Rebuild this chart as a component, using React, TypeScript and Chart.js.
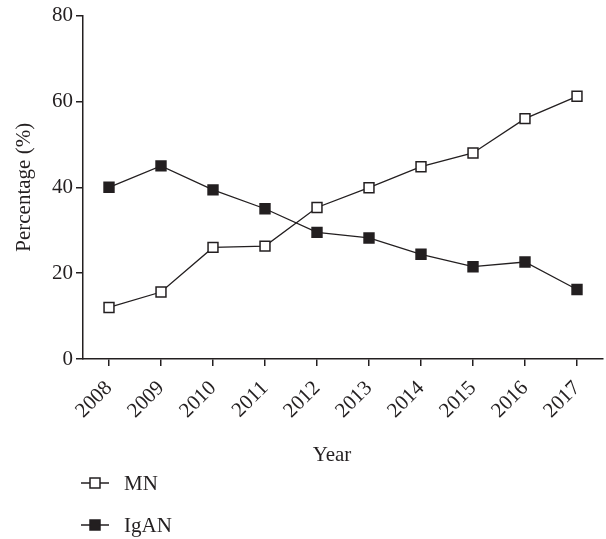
import React, { useEffect, useRef } from "react";
import { Chart, registerables } from "chart.js";

Chart.register(...registerables);

const years = ["2008", "2009", "2010", "2011", "2012", "2013", "2014", "2015", "2016", "2017"];
const mnValues = [12.0, 15.6, 26.0, 26.3, 35.3, 39.9, 44.8, 48.0, 56.0, 61.2];
const iganValues = [40.0, 45.0, 39.4, 35.0, 29.5, 28.2, 24.4, 21.5, 22.6, 16.2];
const yTicks = [0, 20, 40, 60, 80];
const xTitle = "Year";
const yTitle = "Percentage (%)";

const FONT = "'Liberation Serif', 'DejaVu Serif', serif";
const INK = "#231f20";
const FS = 21;

const legendPlugin = {
  id: "stackedLegend",
  afterDraw(chart: any) {
    const ctx = chart.ctx;
    ctx.save();
    // x-axis title, slightly left of centre as in the reference
    ctx.fillStyle = INK;
    ctx.font = `${FS}px ${FONT}`;
    ctx.textAlign = "center";
    ctx.textBaseline = "middle";
    ctx.fillText(xTitle, 332, 455);
    chart.data.datasets.forEach((ds: any, i: number) => {
      const y = 483 + i * 42;
      ctx.strokeStyle = ds.borderColor;
      ctx.lineWidth = 1.5;
      ctx.beginPath();
      ctx.moveTo(81, y);
      ctx.lineTo(109, y);
      ctx.stroke();
      const s = 10;
      ctx.fillStyle = ds.pointBackgroundColor;
      ctx.fillRect(95 - s / 2, y - s / 2, s, s);
      ctx.strokeRect(95 - s / 2, y - s / 2, s, s);
      ctx.fillStyle = INK;
      ctx.font = `${FS}px ${FONT}`;
      ctx.textAlign = "left";
      ctx.textBaseline = "middle";
      ctx.fillText(ds.label, 124, y + 1);
    });
    ctx.restore();
  },
};

export default function App() {
  const ref = useRef<HTMLCanvasElement>(null);
  useEffect(() => {
    document.body.style.margin = "0";
    const chart = new Chart(ref.current!, {
      type: "line",
      data: {
        labels: years,
        datasets: [
          {
            label: "MN",
            data: mnValues,
            borderColor: INK,
            backgroundColor: "#ffffff",
            pointBackgroundColor: "#ffffff",
            pointBorderColor: INK,
            pointStyle: "rect",
            pointRadius: 7,
            pointBorderWidth: 1.5,
            borderWidth: 1.3,
            tension: 0,
          },
          {
            label: "IgAN",
            data: iganValues,
            borderColor: INK,
            backgroundColor: INK,
            pointBackgroundColor: INK,
            pointBorderColor: INK,
            pointStyle: "rect",
            pointRadius: 7,
            pointBorderWidth: 1.5,
            borderWidth: 1.3,
            tension: 0,
          },
        ],
      },
      options: {
        animation: false,
        responsive: true,
        maintainAspectRatio: false,
        layout: { autoPadding: false, padding: { top: 15, right: 3, bottom: 69, left: 0 } },
        plugins: {
          legend: { display: false },
          tooltip: { enabled: false },
        },
        scales: {
          x: {
            type: "category",
            offset: true,
            grid: { display: true, drawOnChartArea: false, drawTicks: true, tickLength: 7, color: INK, lineWidth: 1.5 },
            border: { display: true, color: INK, width: 1.5 },
            ticks: {
              minRotation: 45,
              maxRotation: 45,
              autoSkip: false,
              padding: 10,
              color: INK,
              font: { family: FONT, size: FS },
            },
            title: { display: false },
            afterFit(scale: any) {
              scale.height = 111;
              scale.paddingLeft = 0;
              scale.paddingRight = 0;
            },
          },
          y: {
            min: 0,
            max: 80,
            afterBuildTicks(scale: any) {
              scale.ticks = yTicks.map((v) => ({ value: v }));
            },
            grid: { display: true, drawOnChartArea: false, drawTicks: true, tickLength: 7, color: INK, lineWidth: 1.5 },
            border: { display: true, color: INK, width: 1.5 },
            ticks: {
              padding: 3,
              color: INK,
              font: { family: FONT, size: FS },
            },
            title: {
              display: true,
              text: yTitle,
              color: INK,
              font: { family: FONT, size: FS },
              padding: { top: 12, bottom: 0 },
            },
            afterFit(scale: any) {
              scale.width = 83;
            },
          },
        },
      },
      plugins: [legendPlugin],
    });
    return () => chart.destroy();
  }, []);
  return (
    <div style={{ position: "fixed", left: 0, top: 0, width: 606, height: 539, background: "#fff" }}>
      <canvas ref={ref} />
    </div>
  );
}
